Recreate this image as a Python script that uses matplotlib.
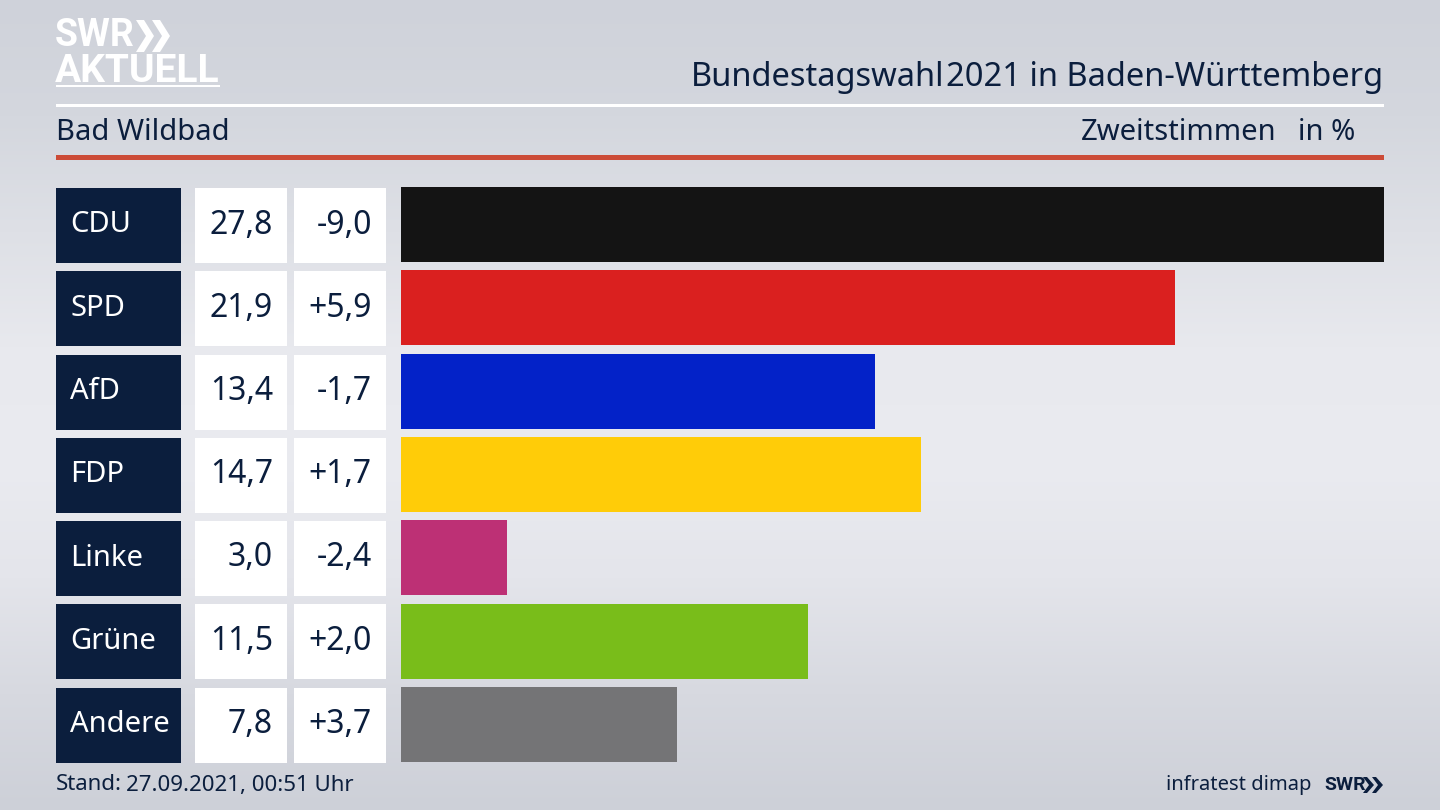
import matplotlib
matplotlib.use("Agg")
import matplotlib.pyplot as plt
from matplotlib.patches import Rectangle, Polygon
import numpy as np

parteien = ["CDU", "SPD", "AfD", "FDP", "Linke", "Grüne", "Andere"]
ergebnis = [27.8, 21.9, 13.4, 14.7, 3.0, 11.5, 7.8]
diff = ["-9,0", "+5,9", "-1,7", "+1,7", "-2,4", "+2,0", "+3,7"]
farben = ["#141414", "#da201f", "#0322c8", "#ffcc08", "#bd3075", "#79bd1a", "#747476"]

navy = "#0b1e3d"
schrift = "Noto Sans"

fig = plt.figure(figsize=(14.4, 8.1), dpi=100)

# hintergrund, pixelkoordinaten
bg = fig.add_axes([0, 0, 1, 1])
bg.set_xlim(0, 1440)
bg.set_ylim(810, 0)
bg.axis("off")
verlauf = np.array([0.80, 0.83, 0.88, 0.92, 0.93, 0.90, 0.85, 0.80])
stufen = np.array([[207, 210, 218], [212, 215, 222], [222, 224, 230], [232, 233, 238],
                    [234, 235, 240], [228, 229, 235], [215, 217, 224], [205, 208, 216]])
bild = np.stack([np.interp(np.linspace(0, 7, 810), np.arange(8), stufen[:, i]) for i in range(3)], axis=1)
bg.imshow(bild[:, None, :] / 255, extent=(0, 1440, 810, 0), aspect="auto", zorder=0)
bg.set_xlim(0, 1440)
bg.set_ylim(810, 0)

# linien oben
bg.add_patch(Rectangle((56, 104), 1328, 3, color="white", lw=0))
bg.add_patch(Rectangle((56, 155), 1328, 5, color="#cc4b37", lw=0))

# logo
bg.text(55, 36, "SWR", color="white", fontsize=27, fontweight="bold", family="Roboto", va="center")
bg.text(55, 72, "AKTUELL", color="white", fontsize=28, fontweight="bold", family="Roboto", va="center")
for x0 in (136, 152):
    bg.add_patch(Polygon([(x0, 20), (x0 + 8, 20), (x0 + 18, 36), (x0 + 8, 52), (x0, 52), (x0 + 10, 36)], color="white", lw=0))
bg.add_patch(Rectangle((56, 85), 164, 2, color="white", lw=0))

# titel
t = bg.text(1383, 78, "2021 in Baden-Württemberg", color=navy, fontsize=23.5, family=schrift, ha="right", va="center")
bg.text(944, 78, "Bundestagswahl", color=navy, fontsize=23.5, family=schrift, fontweight="bold", ha="right", va="center")
bg.text(56, 132, "Bad Wildbad", color=navy, fontsize=21, family=schrift, va="center")
bg.text(1277, 132, "Zweitstimmen", color=navy, fontsize=21, family=schrift, ha="right", va="center")
bg.text(1355, 132, "in %", color=navy, fontsize=21, family=schrift, ha="right", va="center")

# balken
ax = fig.add_axes([401 / 1440, 1 - 762 / 810, 983 / 1440, 575 / 810])
ax.patch.set_alpha(0)
y = np.arange(len(parteien))
ax.barh(y, ergebnis, height=0.9, color=farben)
ax.set_xlim(0, max(ergebnis))
ax.set_ylim(len(parteien) - 0.55, -0.45)
ax.axis("off")

# tabelle links
for i, p in enumerate(parteien):
    oben = 188 + i * 83.25
    mitte = oben + 37
    bg.add_patch(Rectangle((56, oben), 125, 75, color=navy, lw=0))
    bg.add_patch(Rectangle((195, oben), 92, 75, color="white", lw=0))
    bg.add_patch(Rectangle((294, oben), 92, 75, color="white", lw=0))
    bg.text(70, mitte, p, color="white", fontsize=21, family=schrift, va="center")
    bg.text(273, mitte, f"{ergebnis[i]:.1f}".replace(".", ","), color=navy, fontsize=23, family=schrift, ha="right", va="center")
    bg.text(372, mitte, diff[i], color=navy, fontsize=23, family=schrift, ha="right", va="center")

# fusszeile
bg.text(56, 785, "Stand:", color=navy, fontsize=16, family=schrift, fontweight="bold", va="center")
bg.text(126, 785, "27.09.2021, 00:51 Uhr", color=navy, fontsize=16, family=schrift, va="center")
bg.text(1312, 785, "infratest dimap", color=navy, fontsize=14.5, family=schrift, ha="right", va="center")
bg.text(1324, 785, "SWR", color=navy, fontsize=14, family="Roboto", fontweight="bold", va="center")
for x0 in (1363, 1372):
    bg.add_patch(Polygon([(x0, 777), (x0 + 4, 777), (x0 + 11, 785), (x0 + 4, 793), (x0, 793), (x0 + 6, 785)], color=navy, lw=0))

fig.savefig("out.png", dpi=100)
